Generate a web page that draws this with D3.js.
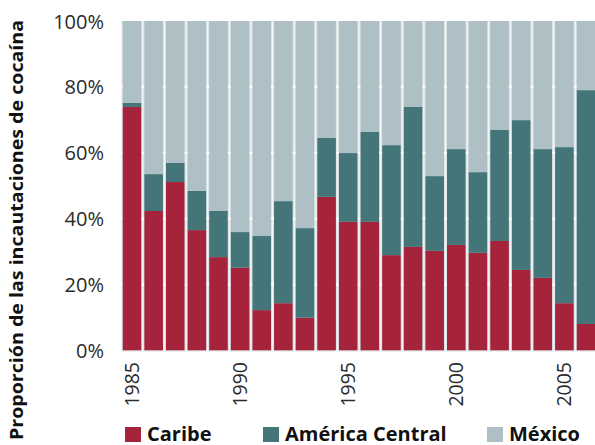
<!DOCTYPE html>
<html><head><meta charset="utf-8">
<script src="https://cdn.jsdelivr.net/npm/d3@7"></script>
<style>body{margin:0;background:#fff}svg{display:block}</style>
</head><body>
<svg id="c" width="595" height="445"></svg>
<script>
const years = [1985,1986,1987,1988,1989,1990,1991,1992,1993,1994,1995,1996,1997,1998,1999,2000,2001,2002,2003,2004,2005,2006];
const caribe  = [73.9,42.3,51.1,36.5,28.3,25.1,12.2,14.3, 9.9,46.6,39.0,39.0,28.9,31.4,30.2,32.0,29.6,33.2,24.4,22.0,14.3, 8.0];
const central = [ 1.2,11.2, 5.8,11.9,14.0,10.8,22.5,31.0,27.2,17.9,20.9,27.3,33.4,42.5,22.7,29.1,24.5,33.8,45.5,39.1,47.4,71.0];
const mexico  = [24.9,46.5,43.1,51.6,57.7,64.1,65.3,54.7,62.9,35.5,40.1,33.7,37.7,26.1,47.1,38.9,45.9,33.0,30.1,38.9,38.3,21.0];
const seriesNames = ["Caribe","América Central","México"];
const colors = ["#a6233c","#437579","#aebfc5"];
const yTicks = [0,20,40,60,80,100];
const xLabels = [1985,1990,1995,2000,2005];

const rows = years.map((y,i)=>({year:y,"Caribe":caribe[i],"América Central":central[i],"México":mexico[i]}));
const stacked = d3.stack().keys(seriesNames)(rows);

const svg = d3.select("#c");
const font = "'Open Sans', 'Noto Sans', sans-serif";
const x = d3.scaleBand().domain(years).range([121.2, 121.2 + 22*21.62]).paddingInner(0.14).paddingOuter(0.07);
const y = d3.scaleLinear().domain([0,100]).range([350.3, 21]);

// faint bar edges
svg.append("g").selectAll("rect").data(years).join("rect")
  .attr("x", d=>x(d)-1.2).attr("width", x.bandwidth()+2.4)
  .attr("y", y(100)).attr("height", y(0)-y(100)+1.2)
  .attr("fill", "#dde4e6");

// white gridlines
svg.append("g").selectAll("line").data(yTicks.filter(t=>t>0&&t<100)).join("line")
  .attr("x1", 118).attr("x2", 597).attr("y1", d=>y(d)).attr("y2", d=>y(d))
  .attr("stroke", "#fff").attr("stroke-width", 2);

// stacked bars
svg.append("g").selectAll("g").data(stacked).join("g")
  .attr("fill", (d,i)=>colors[i])
  .selectAll("rect").data(d=>d).join("rect")
  .attr("x", d=>x(d.data.year)).attr("width", x.bandwidth())
  .attr("y", d=>y(d[1])).attr("height", d=>y(d[0])-y(d[1]));

// y axis labels
const yAxis = d3.axisLeft(y).tickValues(yTicks).tickFormat(d=>d+"%").tickSize(0).tickPadding(0);
const gy = svg.append("g").attr("transform","translate(104,0)").call(yAxis);
gy.select(".domain").remove();
gy.selectAll("text").attr("font-family", font).attr("font-size", 20).attr("fill", "#2a2a2a").attr("dy","0.35em");

// x axis labels
const xAxis = d3.axisBottom(x).tickValues(xLabels).tickSize(0).tickPadding(0);
const gx = svg.append("g").attr("transform","translate(0,362)").call(xAxis);
gx.select(".domain").remove();
gx.selectAll("text").attr("font-family", font).attr("font-size", 19.5).attr("fill", "#2a2a2a")
  .attr("transform","rotate(-90)").attr("text-anchor","end").attr("x",0).attr("y",0).attr("dy","0.35em");

// y title
svg.append("text").attr("transform","translate(23,230) rotate(-90)")
  .attr("text-anchor","middle").attr("font-family", font).attr("font-weight","bold")
  .attr("font-size", 17.5).attr("fill","#111")
  .attr("textLength", 420).attr("lengthAdjust","spacingAndGlyphs")
  .text("Proporción de las incautaciones de cocaína");

// legend
const legendX = [125, 263, 487];
const lg = svg.append("g");
seriesNames.forEach((n,i)=>{
  lg.append("rect").attr("x", legendX[i]).attr("y", 427).attr("width", 16).attr("height", 15).attr("fill", colors[i]);
  lg.append("text").attr("x", legendX[i]+22).attr("y", 440.5).attr("font-family", font).attr("font-weight","bold")
    .attr("font-size", 20).attr("fill","#111").text(n);
});
</script>
</body></html>
